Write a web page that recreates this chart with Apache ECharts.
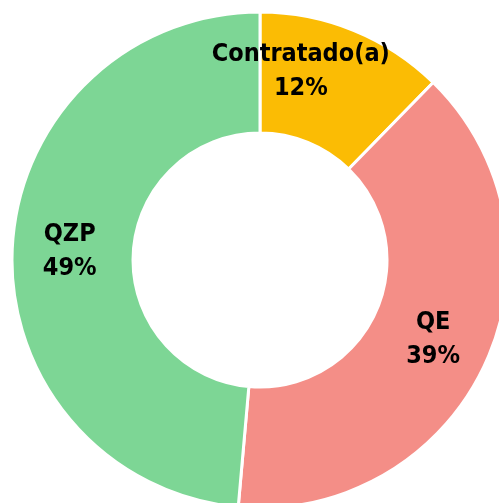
<!DOCTYPE html>
<html lang="pt">
<head>
    <meta charset="UTF-8">
    <script src="https://cdn.jsdelivr.net/npm/echarts@6/dist/echarts.min.js"></script>
    <title>Donut</title>
    <style>
        html, body { margin: 0; padding: 0; background: #fff; }
        #donut_chart { width: 499px; height: 503px; }
    </style>
</head>
<body>
<div id="donut_chart"></div>
<script>
    // chart data (shares, labels show them rounded)
    var categories = ['Contratado(a)', 'QE', 'QZP'];
    var shares = [12.3, 39.1, 48.6];
    var colors = ['#FBBC04', '#F48E87', '#7DD695'];

    var chartDonut = echarts.init(document.getElementById('donut_chart'));

    var items = categories.map(function (name, i) {
        var item = {
            name: name,
            value: shares[i],
            itemStyle: { color: colors[i] }
        };
        // Contratado label is pushed toward the top like the original
        if (i === 0) {
            item.label = { offset: [-31, -12] };
        }
        return item;
    });

    var option = {
        animation: false,
        series: [
            {
                type: 'pie',
                center: [260, 260],
                radius: [127, 248],
                startAngle: 90,
                clockwise: true,
                avoidLabelOverlap: false,
                itemStyle: {
                    borderColor: '#fff',
                    borderWidth: 3
                },
                label: {
                    show: true,
                    position: 'inside',
                    formatter: function (p) {
                        return p.name + '\n' + Math.round(p.percent) + '%';
                    },
                    fontFamily: "'Liberation Sans Narrow', 'DejaVu Sans Condensed', Roboto, sans-serif",
                    fontWeight: 'bold',
                    fontSize: 25,
                    lineHeight: 34,
                    color: '#000'
                },
                labelLine: { show: false },
                emphasis: { disabled: true },
                data: items
            }
        ]
    };

    chartDonut.setOption(option);
</script>
</body>
</html>
